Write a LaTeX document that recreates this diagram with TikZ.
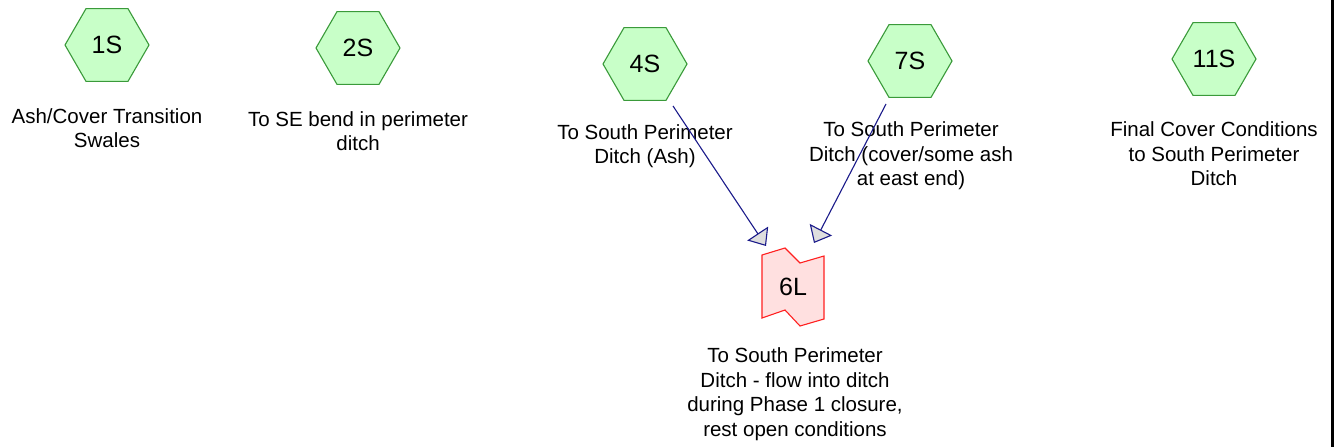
\documentclass[tikz,border=0pt]{standalone}
\usepackage{fontspec}
\setmainfont{Liberation Sans}
\usetikzlibrary{shapes.geometric,arrows.meta}
\definecolor{hexfill}{HTML}{C8FFC8}
\definecolor{hexline}{HTML}{3A9A3A}
\definecolor{lfill}{HTML}{FFE0E0}
\definecolor{lline}{HTML}{FF2020}
\definecolor{arr}{HTML}{1A1A8A}
\tikzset{
  hexnode/.style={regular polygon, regular polygon sides=6, minimum size=84pt, inner sep=0pt,
    draw=hexline, fill=hexfill, line width=1.1pt, font=\fontsize{25}{30}\selectfont},
  lbl/.style={align=center, font=\fontsize{20.5}{24.5}\selectfont, inner sep=0pt},
  flow/.style={draw=arr, line width=1.1pt, -{Triangle[length=15pt,width=25pt,fill=black!13]}},
}
\begin{document}
\begin{tikzpicture}[x=1pt,y=-1pt]
\useasboundingbox (0,0) rectangle (1337,447);
\fill[white] (0,0) rectangle (1337,447);
\draw[black, line width=3pt] (1332.5,0) -- (1332.5,447);

\node[hexnode] (s1) at (107,45) {1S};
\node[hexnode] (s2) at (358,48) {2S};
\node[hexnode] (s4) at (645,64) {4S};
\node[hexnode] (s7) at (910,61) {7S};
\node[hexnode] (s11) at (1214,59) {11S};

\node[lbl] (t1) at (107,128) {Ash/Cover Transition\\Swales};
\node[lbl] (t2) at (358,131) {To SE bend in perimeter\\ditch};
\node[lbl] (t4) at (645,146) {To South Perimeter\\Ditch (Ash)};
\node[lbl] (t7) at (911,156) {To South Perimeter\\Ditch (cover/some ash\\at east end)};
\node[lbl] (t11) at (1214,154) {Final Cover Conditions\\to South Perimeter\\Ditch};

% 6L shape
\coordinate (l6) at (793,287);
\draw[draw=lline, fill=lfill, line width=1.1pt]
  (762,255) -- (785,248) -- (800,263) -- (824,256) -- (824,319) -- (800,326) -- (785,310) -- (762,318) -- cycle;
\node[font=\fontsize{25}{30}\selectfont] (l6t) at (l6) {6L};
\node[lbl] (t6) at (795,394) {To South Perimeter\\Ditch - flow into ditch\\during Phase 1 closure,\\rest open conditions};

\coordinate (a4s) at (673,106);
\coordinate (a4e) at (766,246);
\coordinate (a7s) at (886,104);
\coordinate (a7e) at (814,243);
\draw[flow] (a4s) -- (a4e);
\draw[flow] (a7s) -- (a7e);
\end{tikzpicture}
\end{document}
